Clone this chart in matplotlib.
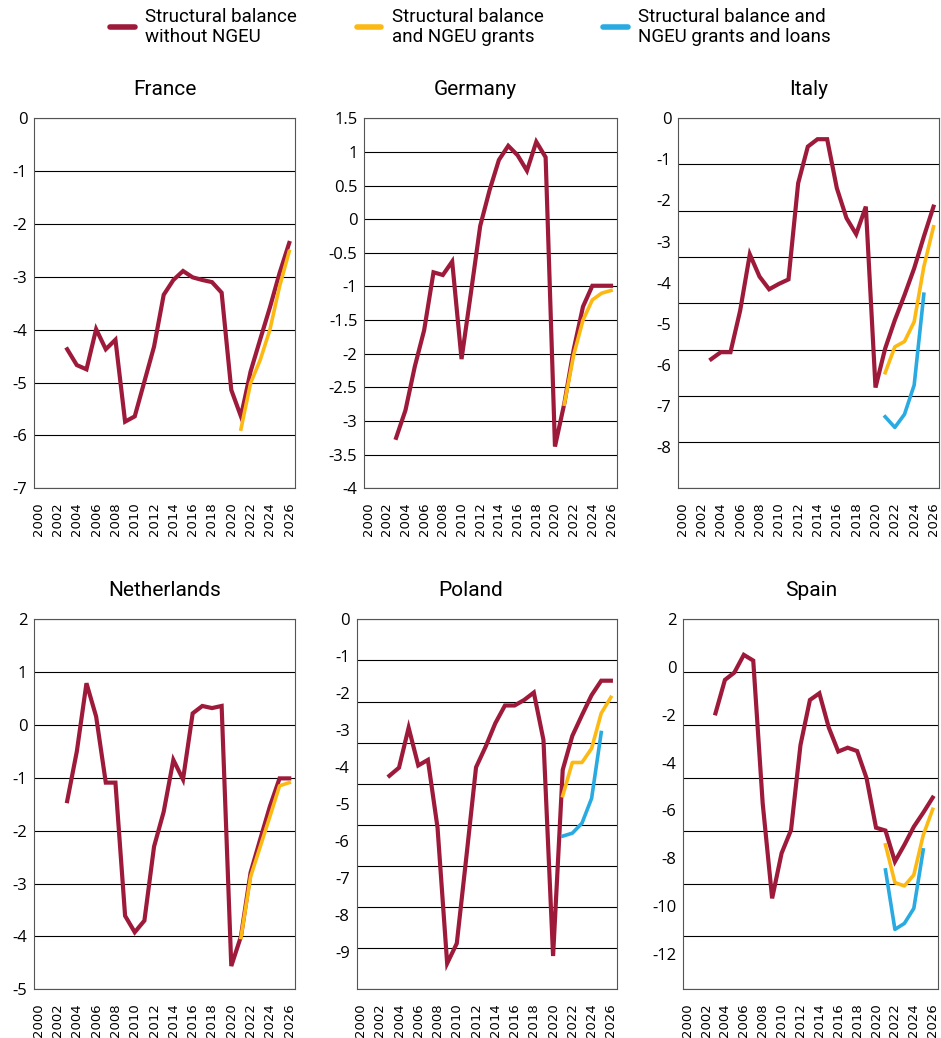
# Structural balance with and without NGEU funds, six EU countries
import numpy as np
import matplotlib.pyplot as plt
from matplotlib.lines import Line2D

# Years covered by each series
years = np.arange(2003, 2027)
grant_years = np.arange(2021, 2027)
loan_years = np.arange(2021, 2026)

# Structural balance without NGEU (% of GDP)
france_base = [-4.37, -4.67, -4.75, -3.99, -4.37, -4.19, -5.74, -5.64, -4.98, -4.32,
               -3.34, -3.06, -2.89, -3.01, -3.06, -3.10, -3.30, -5.14, -5.64, -4.79,
               -4.18, -3.58, -2.93, -2.36]
germany_base = [-3.25, -2.84, -2.19, -1.65, -0.79, -0.83, -0.63, -2.08, -1.10, -0.10,
                0.43, 0.88, 1.09, 0.95, 0.72, 1.15, 0.92, -3.38, -2.74, -1.94,
                -1.30, -0.99, -0.99, -0.99]
italy_base = [-5.86, -5.69, -5.69, -4.68, -3.31, -3.85, -4.16, -4.03, -3.92, -1.58,
              -0.69, -0.51, -0.51, -1.70, -2.43, -2.82, -2.15, -6.55, -5.60, -4.91,
              -4.30, -3.65, -2.88, -2.15]
netherlands_base = [-1.44, -0.50, 0.79, 0.16, -1.09, -1.09, -3.61, -3.92, -3.70, -2.30,
                    -1.64, -0.66, -1.03, 0.22, 0.36, 0.32, 0.36, -4.56, -4.00, -2.79,
                    -2.16, -1.54, -1.01, -1.01]
poland_base = [-4.23, -4.01, -2.93, -3.95, -3.80, -5.63, -9.30, -8.76, -6.41, -4.00,
               -3.44, -2.81, -2.33, -2.33, -2.18, -1.98, -3.26, -9.10, -4.07, -3.15,
               -2.59, -2.05, -1.66, -1.66]
spain_base = [-1.94, -0.54, -0.23, 0.51, 0.27, -5.71, -9.69, -7.80, -6.83, -3.27,
              -1.38, -1.10, -2.54, -3.54, -3.38, -3.52, -4.66, -6.73, -6.85, -8.15,
              -7.45, -6.69, -6.10, -5.47]

# Structural balance and NGEU grants
france_grants = [-5.88, -5.01, -4.57, -4.00, -3.18, -2.52]
germany_grants = [-2.75, -2.02, -1.50, -1.20, -1.10, -1.06]
italy_grants = [-6.19, -5.56, -5.43, -4.95, -3.61, -2.64]
netherlands_grants = [-4.02, -2.87, -2.30, -1.73, -1.15, -1.09]
poland_grants = [-4.77, -3.87, -3.87, -3.49, -2.54, -2.11]
spain_grants = [-7.45, -9.03, -9.17, -8.71, -7.04, -5.96]

# Structural balance and NGEU grants and loans
italy_loans = [-7.26, -7.52, -7.20, -6.49, -4.28]
poland_loans = [-5.86, -5.78, -5.51, -4.84, -3.06]
spain_loans = [-8.50, -10.99, -10.74, -10.11, -7.66]

# Axis tick labels per country
france_ticks = [0, -1, -2, -3, -4, -5, -6, -7]
germany_ticks = [1.5, 1, 0.5, 0, -0.5, -1, -1.5, -2, -2.5, -3, -3.5, -4]
italy_ticks = [0, -1, -2, -3, -4, -5, -6, -7, -8]
netherlands_ticks = [2, 1, 0, -1, -2, -3, -4, -5]
poland_ticks = [0, -1, -2, -3, -4, -5, -6, -7, -8, -9]
spain_ticks = [2, 0, -2, -4, -6, -8, -10, -12]
year_ticks = np.arange(2000, 2027, 2)

labels = ["Structural balance\nwithout NGEU",
          "Structural balance\nand NGEU grants",
          "Structural balance and\nNGEU grants and loans"]

RED = "#9e1a3a"
YELLOW = "#fdb913"
BLUE = "#29abe2"
TITLE_FONT = ["Roboto", "DejaVu Sans"]


def draw_panel(ax, title, base, grants, loans, ticks, ylim, n_grid, title_x=0.5):
    # gridlines (original chart has them spaced independently of labels)
    ax.yaxis.remove_overlapping_locs = False
    ax.set_yticks(np.linspace(ylim[0], ylim[1], n_grid + 1), minor=True)
    ax.yaxis.grid(True, which="minor", color="black", linewidth=0.8)
    ax.yaxis.grid(False, which="major")
    ax.set_axisbelow(True)

    ax.plot(years, base, color=RED, linewidth=3.0, solid_joinstyle="miter")
    ax.plot(grant_years, grants, color=YELLOW, linewidth=2.6)
    if loans is not None:
        ax.plot(loan_years, loans, color=BLUE, linewidth=2.6)

    ax.set_ylim(*ylim)
    ax.set_xlim(1999.6, 2026.6)
    ax.set_yticks(ticks)
    ax.set_yticklabels([f"{t:g}" for t in ticks], family="Open Sans", fontsize=12)
    ax.set_xticks(year_ticks)
    ax.set_xticklabels([str(y) for y in year_ticks], rotation=90, fontsize=9.5,
                       family="DejaVu Sans")
    ax.tick_params(axis="both", which="both", length=0)
    ax.tick_params(axis="y", pad=5)
    ax.tick_params(axis="x", pad=10)
    for s in ax.spines.values():
        s.set_color("#555555")
        s.set_linewidth(0.8)
    ax.set_title(title, x=title_x, pad=17, fontsize=15, family=TITLE_FONT)


if __name__ == "__main__":
    fig = plt.figure(figsize=(9.41, 10.38), dpi=100)

    top_b, bot_b, h = 0.5296, 0.0469, 0.3565
    ax_fr = fig.add_axes([0.0365, top_b, 0.277, h])
    ax_de = fig.add_axes([0.3872, top_b, 0.2681, h])
    ax_it = fig.add_axes([0.7208, top_b, 0.2774, h])
    ax_nl = fig.add_axes([0.0365, bot_b, 0.277, h])
    ax_pl = fig.add_axes([0.3790, bot_b, 0.2763, h])
    ax_es = fig.add_axes([0.7262, bot_b, 0.2710, h])

    draw_panel(ax_fr, "France", france_base, france_grants, None, france_ticks, (-7, 0), 7)
    draw_panel(ax_de, "Germany", germany_base, germany_grants, None, germany_ticks,
               (-4, 1.5), 11, title_x=0.44)
    draw_panel(ax_it, "Italy", italy_base, italy_grants, italy_loans, italy_ticks, (-9, 0), 8)
    draw_panel(ax_nl, "Netherlands", netherlands_base, netherlands_grants, None,
               netherlands_ticks, (-5, 2), 7)
    draw_panel(ax_pl, "Poland", poland_base, poland_grants, poland_loans, poland_ticks,
               (-10, 0), 9, title_x=0.44)
    draw_panel(ax_es, "Spain", spain_base, spain_grants, spain_loans, spain_ticks,
               (-13.5, 2), 7)

    # legend at the top
    handles = [Line2D([], [], color=c, linewidth=4, solid_capstyle="round")
               for c in (RED, YELLOW, BLUE)]
    fig.legend(handles, labels, loc="center", bbox_to_anchor=(0.5, 1 - 27 / 1038),
               ncol=3, frameon=False, handlelength=1.3, handletextpad=0.55,
               columnspacing=3.2, prop={"family": TITLE_FONT, "size": 13.5})

    fig.savefig("out.png", dpi=100)
